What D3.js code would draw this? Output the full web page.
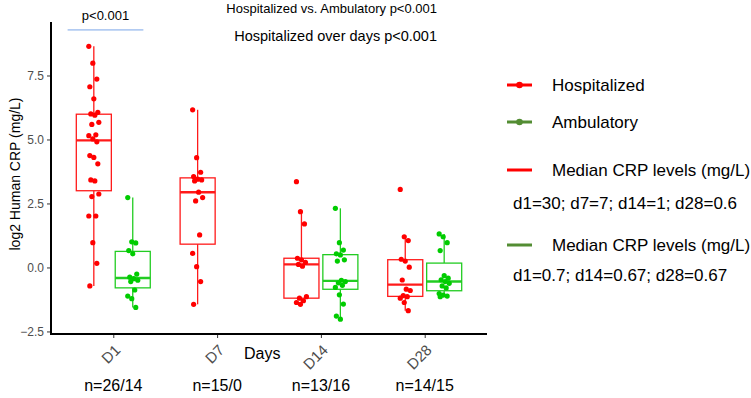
<!DOCTYPE html>
<html>
<head>
<meta charset="utf-8">
<script src="https://cdn.jsdelivr.net/npm/d3@7"></script>
<style>
  body { margin: 0; background: #fff; }
  text { font-family: "Liberation Sans", Arial, sans-serif; }
</style>
</head>
<body>
<div id="myChart"></div>
<script>
// Chart size
const w = 751;
const h = 398;

// Data (log2 CRP)
const days = ["D1", "D7", "D14", "D28"];
const groups = ["Hospitalized", "Ambulatory"];
const nLabels = ["n=26/14", "n=15/0", "n=13/16", "n=14/15"];
const yTicks = [-2.5, 0, 2.5, 5, 7.5];

const d1Hosp = [8.64, 7.98, 7.36, 7.06, 6.59, 6.06, 6.0, 5.95, 5.67, 5.59, 5.18, 5.15, 5.02,
                4.91, 4.37, 4.30, 4.05, 3.42, 3.38, 2.87, 2.77, 2.01, 2.01, 0.97, 0.16, -0.72];
const d1Amb = [2.73, 1.0, 0.96, 0.66, 0.53, -0.26, -0.38, -0.44, -0.5, -0.55, -0.88, -1.12, -1.22, -1.56];
const d7Hosp = [6.16, 4.29, 3.72, 3.55, 3.45, 3.42, 3.38, 2.94, 2.73, 2.60, 1.27, 0.55, 0.03, -0.55, -1.44];
const d14Hosp = [3.35, 2.18, 1.70, 0.36, 0.3, 0.2, 0.12, 0.05, -1.14, -1.2, -1.3, -1.37, -1.44];
const d14Amb = [2.31, 0.97, 0.68, 0.53, 0.49, 0.3, 0.25, -0.5, -0.55, -0.6, -0.7, -0.78, -1.07, -1.43, -1.9, -2.02];
const d28Hosp = [3.05, 1.2, 1.05, 0.32, 0.25, 0.01, -0.49, -0.85, -0.9, -1.1, -1.14, -1.2, -1.37, -1.69];
const d28Amb = [1.31, 1.2, 0.97, 0.66, -0.32, -0.42, -0.48, -0.55, -0.62, -0.72, -0.8, -1.02, -1.08, -1.12, -1.14];

const series = [
  {day: "D1", group: "Hospitalized", values: d1Hosp},
  {day: "D1", group: "Ambulatory", values: d1Amb},
  {day: "D7", group: "Hospitalized", values: d7Hosp},
  {day: "D14", group: "Hospitalized", values: d14Hosp},
  {day: "D14", group: "Ambulatory", values: d14Amb},
  {day: "D28", group: "Hospitalized", values: d28Hosp},
  {day: "D28", group: "Ambulatory", values: d28Amb}
];

const topNotes = ["Hospitalized vs. Ambulatory p<0.001", "Hospitalized over days p<0.001"];
const legendItems = ["Hospitalized", "Ambulatory", "Median CRP levels (mg/L)", "Median CRP levels (mg/L)"];
const medianNotes = ["d1=30; d7=7; d14=1; d28=0.6", "d1=0.7; d14=0.67; d28=0.67"];

// Colours
const pointColor = {Hospitalized: "#ff0000", Ambulatory: "#00cc00"};
const boxColor = {Hospitalized: "#ff1a1a", Ambulatory: "#22cc22"};
const legendColor = {Hospitalized: "#ff0000", Ambulatory: "#538d33"};

// Panel
const margin = {top: 22, left: 51, bottom: 64, right: 264};
const innerW = w - margin.left - margin.right;
const innerH = h - margin.top - margin.bottom;

const svg = d3.select("#myChart")
  .append("svg")
    .attr("width", w)
    .attr("height", h)
    .attr("viewBox", [0, 0, w, h]);

const g = svg.append("g")
    .attr("transform", `translate(${margin.left},${margin.top})`);

// Scales
const xScale = d3.scalePoint()
  .domain(days)
  .range([0, innerW])
  .padding(0.6);
const step = xScale.step();

const dodge = d3.scaleBand()
  .domain(groups)
  .range([-0.375 * step, 0.375 * step]);
const boxW = dodge.bandwidth() * 0.9;

const yScale = d3.scaleLinear()
  .domain([-2.6, 9.59])
  .range([innerH, 0]);

// Y axis
const yAxis = g.append("g")
  .call(d3.axisLeft(yScale).tickValues(yTicks).tickFormat(d3.format(".1f")).tickSize(4).tickPadding(3));
yAxis.select(".domain").remove();
yAxis.selectAll(".tick line").attr("stroke", "#333").attr("stroke-width", 1);
yAxis.selectAll(".tick text").attr("fill", "#4d4d4d").style("font-size", "12px")
  .style("font-family", "Liberation Sans, Arial, sans-serif");

// X axis ticks
const xAxis = g.append("g")
  .attr("transform", `translate(0,${innerH})`)
  .call(d3.axisBottom(xScale).tickSize(4).tickFormat(""));
xAxis.select(".domain").remove();
xAxis.selectAll(".tick line").attr("stroke", "#333").attr("stroke-width", 1);

// Axis lines
g.append("line").attr("x1", 0).attr("x2", 0).attr("y1", 0).attr("y2", innerH + 1)
  .attr("stroke", "#000").attr("stroke-width", 2);
g.append("line").attr("x1", -1).attr("x2", innerW).attr("y1", innerH).attr("y2", innerH)
  .attr("stroke", "#000").attr("stroke-width", 2);

// Rotated day labels
g.selectAll(".dayLabel")
  .data(days)
  .enter()
  .append("text")
    .attr("class", "dayLabel")
    .attr("text-anchor", "end")
    .attr("transform", d => `translate(${xScale(d) + 8},${innerH + 17}) rotate(-45)`)
    .attr("fill", "#4d4d4d")
    .style("font-size", "15px")
    .text(d => d);

// n labels
g.selectAll(".nLabel")
  .data(nLabels)
  .enter()
  .append("text")
    .attr("text-anchor", "middle")
    .attr("x", (d, i) => xScale(days[i]))
    .attr("y", innerH + 57)
    .style("font-size", "16px")
    .attr("fill", "#000")
    .text(d => d);

// Axis titles
g.append("text")
  .attr("x", 193)
  .attr("y", innerH + 25)
  .style("font-size", "16px")
  .text("Days");

svg.append("text")
  .attr("text-anchor", "middle")
  .attr("transform", "translate(20,174) rotate(-90)")
  .style("font-size", "14px")
  .text("log2 Human CRP (mg/L)");

// Box statistics
function boxStats(vals) {
  const s = vals.slice().sort(d3.ascending);
  const q1 = d3.quantile(s, 0.25);
  const med = d3.quantile(s, 0.5);
  const q3 = d3.quantile(s, 0.75);
  const iqr = q3 - q1;
  const lo = d3.min(s.filter(v => v >= q1 - 1.5 * iqr));
  const hi = d3.max(s.filter(v => v <= q3 + 1.5 * iqr));
  return {q1, med, q3, lo, hi};
}

const boxes = g.selectAll(".box")
  .data(series)
  .enter()
  .append("g")
    .attr("class", "box")
    .attr("transform", d => `translate(${xScale(d.day) + dodge(d.group) + dodge.bandwidth() / 2},0)`);

boxes.each(function(d) {
  const b = boxStats(d.values);
  const sel = d3.select(this);
  const col = boxColor[d.group];
  sel.append("line").attr("x1", 0).attr("x2", 0)
    .attr("y1", yScale(b.q3)).attr("y2", yScale(b.hi))
    .attr("stroke", col).attr("stroke-width", 1.3);
  sel.append("line").attr("x1", 0).attr("x2", 0)
    .attr("y1", yScale(b.q1)).attr("y2", yScale(b.lo))
    .attr("stroke", col).attr("stroke-width", 1.3);
  sel.append("rect")
    .attr("x", -boxW / 2).attr("width", boxW)
    .attr("y", yScale(b.q3)).attr("height", yScale(b.q1) - yScale(b.q3))
    .attr("fill", "none").attr("stroke", col).attr("stroke-width", 1.3);
  sel.append("line").attr("x1", -boxW / 2).attr("x2", boxW / 2)
    .attr("y1", yScale(b.med)).attr("y2", yScale(b.med))
    .attr("stroke", col).attr("stroke-width", 2.4);
});

// Jittered points (fixed pattern so the picture is stable)
const jit = i => (((i * 37) % 11) / 10 - 0.5) * 10;
boxes.selectAll("circle")
  .data(d => d.values.map((v, i) => ({v, i, group: d.group})))
  .enter()
  .append("circle")
    .attr("cx", d => jit(d.i))
    .attr("cy", d => yScale(d.v))
    .attr("r", 2.6)
    .attr("fill", d => pointColor[d.group]);

// Significance bracket over D1
const bx0 = xScale("D1") - 0.44 * step;
const bx1 = xScale("D1") + 0.29 * step;
g.append("line")
  .attr("x1", bx0).attr("x2", bx1)
  .attr("y1", yScale(9.28)).attr("y2", yScale(9.28))
  .attr("stroke", "#7aa6e8").attr("stroke-width", 1);
g.append("text")
  .attr("text-anchor", "middle")
  .attr("x", (bx0 + bx1) / 2)
  .attr("y", yScale(9.28) - 10)
  .style("font-size", "13px")
  .text("p<0.001");

// Top notes
svg.selectAll(".note")
  .data(topNotes)
  .enter()
  .append("text")
    .attr("text-anchor", "end")
    .attr("x", 437)
    .attr("y", (d, i) => 13 + i * 28)
    .style("font-size", (d, i) => i === 0 ? "13px" : "14.5px")
    .text(d => d);

// Legend
const legendY = [85, 122, 170, 245];
const legendKeys = ["Hospitalized", "Ambulatory", "Hospitalized", "Ambulatory"];
const legend = svg.append("g");
legendItems.forEach((label, i) => {
  const col = legendColor[legendKeys[i]];
  legend.append("line")
    .attr("x1", 507).attr("x2", 532)
    .attr("y1", legendY[i]).attr("y2", legendY[i])
    .attr("stroke", col).attr("stroke-width", 3);
  if (i < 2) {
    legend.append("circle")
      .attr("cx", 519.5).attr("cy", legendY[i]).attr("r", 3.3)
      .attr("fill", col);
  }
  legend.append("text")
    .attr("x", 552)
    .attr("y", legendY[i] + 6)
    .style("font-size", "17px")
    .text(label);
});
legend.selectAll(".medNote")
  .data(medianNotes)
  .enter()
  .append("text")
    .attr("x", 513)
    .attr("y", (d, i) => [209, 281][i])
    .style("font-size", "17px")
    .text(d => d);
</script>
</body>
</html>
